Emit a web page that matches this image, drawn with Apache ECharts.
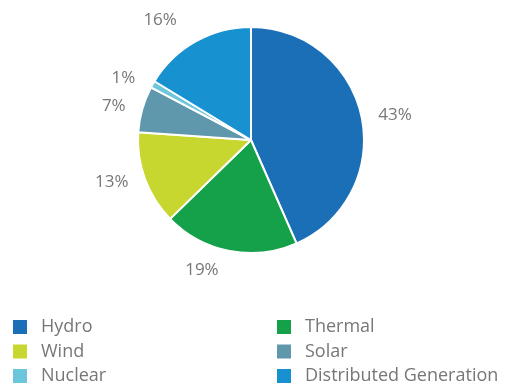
<!DOCTYPE html>
<html><head><meta charset="utf-8">
<script src="https://cdn.jsdelivr.net/npm/echarts@6/dist/echarts.min.js"></script>
<style>html,body{margin:0;padding:0;background:#fff}#c{width:511px;height:391px}</style>
</head><body><div id="c"></div>
<script>
const categories = ['Hydro','Thermal','Wind','Solar','Nuclear','Distributed Generation'];
const values = [43.4, 19.3, 13.4, 6.6, 1.0, 16.3];
const colors = ['#1b6fb7','#14a14a','#c7d72f','#5f98ad','#6cc7dc','#1791cf'];
const legendLeft = ['Hydro','Wind','Nuclear'];
const legendRight = ['Thermal','Solar','Distributed Generation'];
// extra outward label distance per slice (style only)
const labelExtra = {'Thermal': 10, 'Distributed Generation': 14, 'Nuclear': 2};

const chart = echarts.init(document.getElementById('c'), null, {renderer:'canvas'});
const legendCommon = {
  orient: 'vertical', top: 318, height: 80, padding: 0,
  itemWidth: 16, itemHeight: 16, itemGap: 6.5,
  icon: 'rect',
  textStyle: {fontFamily: 'Open Sans', fontSize: 18, lineHeight: 16, color: '#777777', padding: [0,0,0,8]}
};
chart.setOption({
  animation: false,
  color: colors,
  legend: [
    Object.assign({left: 11, data: legendLeft}, legendCommon),
    Object.assign({left: 275, data: legendRight}, legendCommon)
  ],
  series: [{
    type: 'pie',
    center: [251, 140],
    radius: 113,
    startAngle: 90,
    clockwise: true,
    data: categories.map((n,i)=>({
      name:n, value:values[i],
      labelLine: {length: 10 + (labelExtra[n] || 0), length2: 2}
    })),
    itemStyle: {borderColor: '#fff', borderWidth: 2},
    label: {
      show: true, position: 'outside',
      formatter: p => Math.round(p.value) + '%',
      fontFamily: 'Open Sans', fontSize: 17, color: '#777777'
    },
    labelLine: {show: false, length: 10, length2: 2},
    emphasis: {disabled: true}
  }]
});
</script></body></html>
